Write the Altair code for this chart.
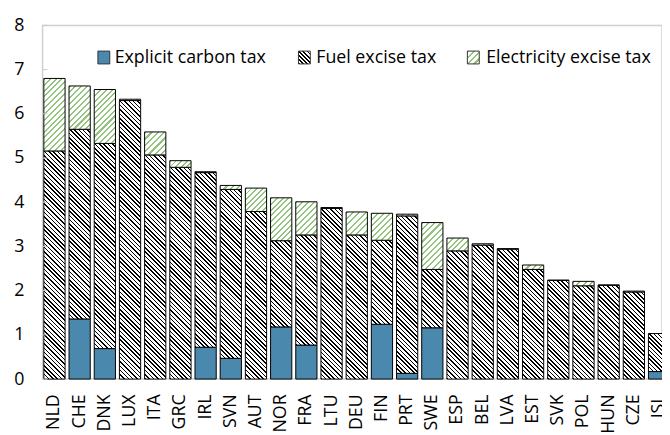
import altair as alt

# ---------------- data ----------------
countries = ["NLD", "CHE", "DNK", "LUX", "ITA", "GRC", "IRL", "SVN", "AUT", "NOR",
             "FRA", "LTU", "DEU", "FIN", "PRT", "SWE", "ESP", "BEL", "LVA", "EST",
             "SVK", "POL", "HUN", "CZE", "ISL"]
carbon = [0.00, 1.36, 0.69, 0.00, 0.00, 0.00, 0.72, 0.47, 0.00, 1.18,
          0.77, 0.00, 0.00, 1.24, 0.13, 1.16, 0.00, 0.00, 0.00, 0.00,
          0.00, 0.00, 0.00, 0.00, 0.17]
fuel = [5.16, 4.29, 4.64, 6.30, 5.07, 4.79, 3.95, 3.82, 3.79, 1.95,
        2.49, 3.86, 3.26, 1.90, 3.56, 1.32, 2.90, 3.03, 2.94, 2.48,
        2.23, 2.11, 2.12, 1.97, 0.86]
elec = [1.64, 0.98, 1.22, 0.03, 0.52, 0.15, 0.02, 0.09, 0.53, 0.97,
        0.75, 0.02, 0.52, 0.61, 0.04, 1.06, 0.29, 0.03, 0.01, 0.10,
        0.01, 0.10, 0.01, 0.02, 0.00]
series = ["Explicit carbon tax", "Fuel excise tax", "Electricity excise tax"]
y_ticks = [0, 1, 2, 3, 4, 5, 6, 7, 8]

# ---------------- layout / style ----------------
PLOT_W, PLOT_H, Y_MAX = 627, 358, 8
STEP, P_IN, P_OUT = 25.5, 0.157, 0.05
RANGE_END = STEP * (len(countries) - P_IN + 2 * P_OUT)
BAR_W = STEP * (1 - P_IN)
PX_PER_UNIT = PLOT_H / Y_MAX
BLUE = "#4a88ae"
GREEN = "#93c47d"
FONT = "Open Sans"


def stripes(w, h, direction, color, period, frac, bg="#ffffff"):
    """Hatch pattern built from a linear gradient with hard stops."""
    w = max(w, 0.5)
    h = max(h, 0.5)
    n = max(1, round((w + h) / period))
    c = (w + h) / (w * w + h * h)
    if direction == "back":      # "\" lines
        x1, y1, x2, y2 = 0, 1, c * w, 1 - c * h
    else:                        # "/" lines
        x1, y1, x2, y2 = 0, 0, c * w, c * h
    stops = []
    for k in range(n):
        a, b, e = k / n, (k + frac) / n, (k + 1) / n
        stops += [{"offset": a, "color": color}, {"offset": b, "color": color},
                  {"offset": b, "color": bg}, {"offset": e, "color": bg}]
    return {"gradient": "linear", "x1": x1, "y1": y1, "x2": x2, "y2": y2, "stops": stops}


def seg_fill(kind, value, w=BAR_W, h=None):
    hh = value * PX_PER_UNIT if h is None else h
    if kind == 0:
        return BLUE
    if kind == 1:
        return stripes(w, hh, "back", "#000000", 4.4, 0.36)
    return stripes(w, hh, "fwd", GREEN, 6.0, 0.35)


records = []
for i, c in enumerate(countries):
    for k, vals in enumerate([carbon, fuel, elec]):
        v = vals[i]
        if v <= 0:
            continue
        records.append({"country": c, "series": series[k], "ord": k,
                        "value": v, "grad": seg_fill(k, v)})

y_scale = alt.Scale(domain=[0, Y_MAX], nice=False)
y_axis = alt.Axis(title=None, values=y_ticks, labelFontSize=18, labelFont=FONT,
                  labelColor="#000000", labelPadding=19, ticks=False,
                  domain=False, grid=False)

bars = alt.Chart(alt.Data(values=records)).mark_bar(
    stroke="#000000", strokeWidth=1
).encode(
    x=alt.X("country:N", sort=countries,
            scale=alt.Scale(range=[0, RANGE_END], paddingInner=P_IN, paddingOuter=P_OUT),
            axis=alt.Axis(title=None, labelAngle=270, labelFontSize=18, labelFont=FONT,
                          labelColor="#000000", labelPadding=15, ticks=False, domain=False,
                          labelOverlap=False)),
    y=alt.Y("value:Q", stack="zero", scale=y_scale, axis=y_axis),
    fill=alt.Fill("grad:N", scale=None),
    order=alt.Order("ord:Q"),
)

ticks = alt.Chart(alt.Data(values=[{"v": t} for t in y_ticks])).mark_rule(
    color="#c8c8c8", strokeWidth=1
).encode(
    y=alt.Y("v:Q", scale=y_scale, axis=y_axis),
    x=alt.value(0), x2=alt.value(5),
)

# ---------------- legend ----------------
legend_pos = [(56, 73), (259, 277), (430, 449)]
legend_layers = []
for k, (sx, tx) in enumerate(legend_pos):
    sw_fill = seg_fill(k, 0, w=12, h=13)
    sw = alt.Chart(alt.Data(values=[{"label": series[k]}])).mark_rect(
        stroke="#333333", strokeWidth=1
    ).encode(
        x=alt.value(sx), x2=alt.value(sx + 12),
        y=alt.value(26), y2=alt.value(39),
        fill=alt.value(sw_fill),
    )
    txt = alt.Chart(alt.Data(values=[{"label": series[k]}])).mark_text(
        align="left", baseline="middle", fontSize=18, font=FONT, color="#000000"
    ).encode(
        x=alt.value(tx), y=alt.value(33), text=alt.Text("label:N"),
    )
    legend_layers += [sw, txt]

chart = alt.layer(bars, ticks, *legend_layers).properties(
    width=PLOT_W, height=PLOT_H,
    autosize=alt.AutoSizeParams(type="none"),
    padding={"left": 35, "top": 15, "right": 0, "bottom": 54},
    background="#ffffff",
).configure_view(
    stroke="#d0d0d0", strokeWidth=1.5
)

chart.save("out.html", embed_options={"renderer": "svg", "actions": False})
